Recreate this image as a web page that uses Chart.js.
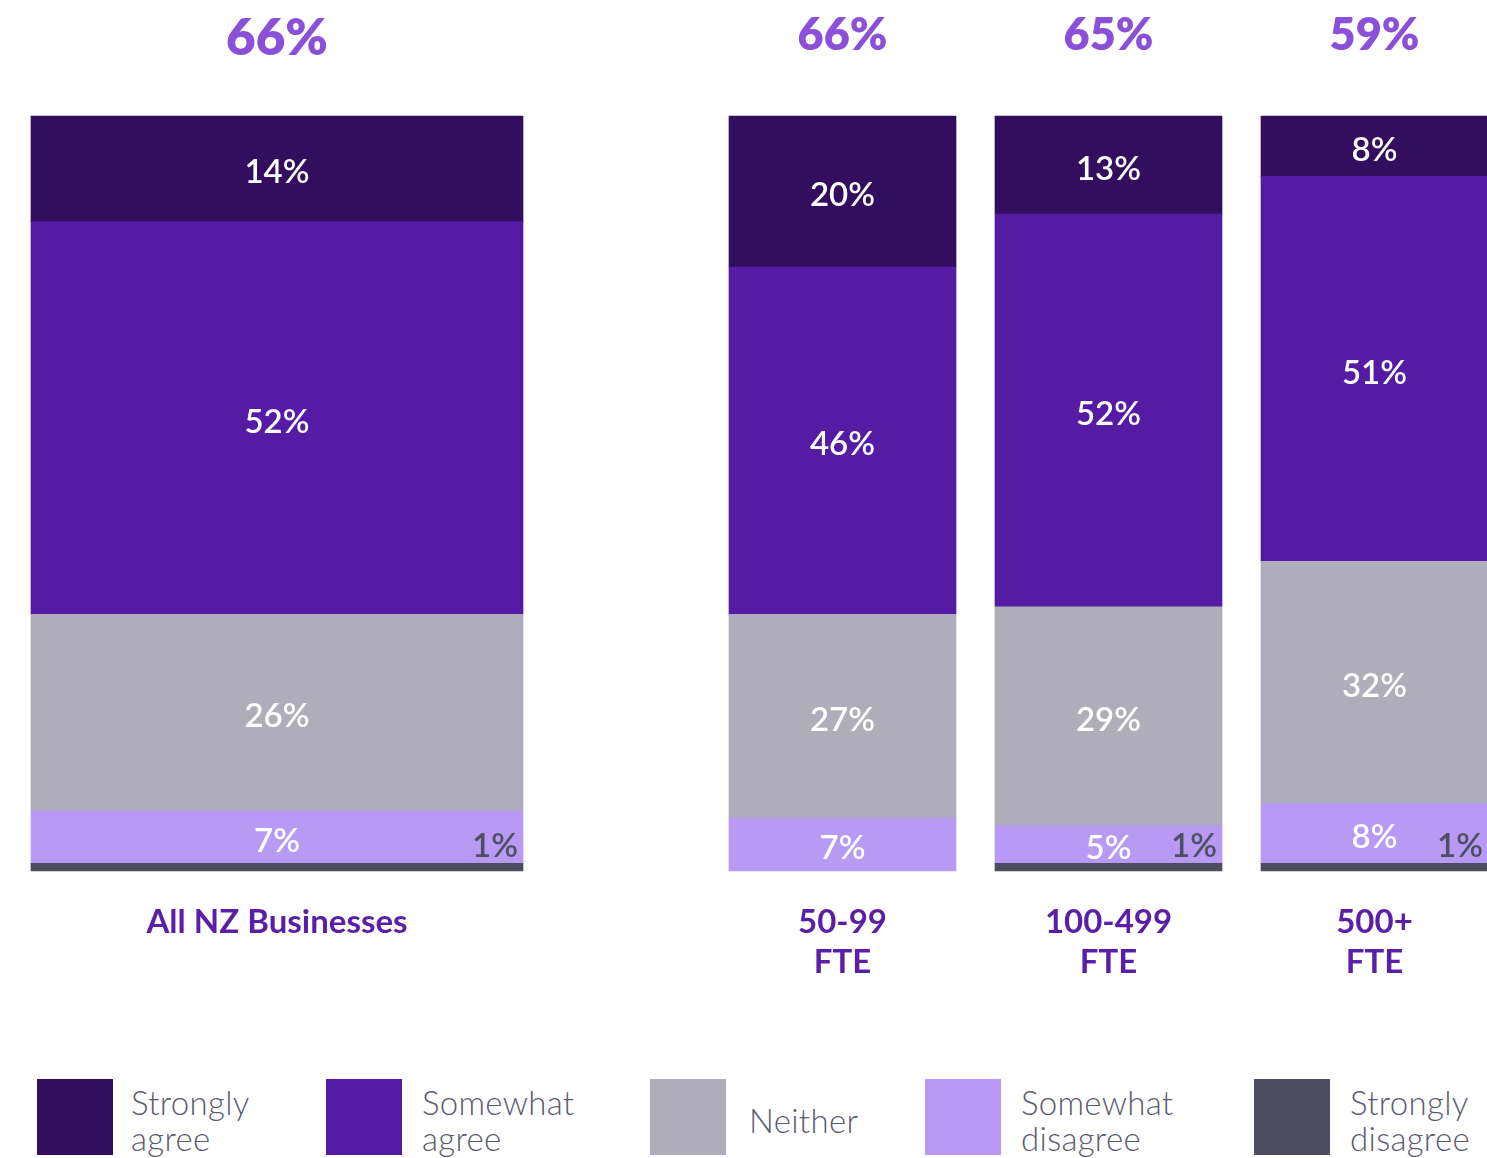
<!DOCTYPE html>
<html>
<head>
<meta charset="utf-8">
<script src="https://cdn.jsdelivr.net/npm/chart.js@4.4.1/dist/chart.umd.min.js"></script>
<style>
body{
    margin:0;
    background:#ffffff;
    overflow:hidden;
    font-family:Lato, "Noto Sans", sans-serif;
}
#wrap{
    position:relative;
    width:1487px;
    height:1158px;
}
canvas{
    position:absolute;
    top:0;
}
#leftChart{ left:0px; }
#rightChart{ left:620px; }
.legendItem{
    position:absolute;
    top:1079px;
    height:76px;
}
.legendBox{
    position:absolute;
    left:0;
    top:0;
    width:76px;
    height:76px;
}
.legendText{
    position:absolute;
    top:3px;
    height:76px;
    display:flex;
    align-items:center;
    font-size:33px;
    font-weight:300;
    line-height:36px;
    color:#5a5c6e;
    white-space:nowrap;
    letter-spacing:0.3px;
}
</style>
</head>
<body>
<div id="wrap">
    <canvas id="leftChart" width="600" height="1000"></canvas>
    <canvas id="rightChart" width="867" height="1000"></canvas>
    <div id="legend"></div>
</div>

<script>

// data
let leftCategories = [["All NZ Businesses"]];
let rightCategories = [["50-99","FTE"],["100-499","FTE"],["500+","FTE"]];

let leftNetAgree = [66];
let rightNetAgree = [66,65,59];

let seriesNames = ["Strongly agree","Somewhat agree","Neither","Somewhat disagree","Strongly disagree"];
let legendLines = [["Strongly","agree"],["Somewhat","agree"],["Neither"],["Somewhat","disagree"],["Strongly","disagree"]];
let seriesColors = ["#330e5f","#561ba4","#afadba","#b89af5","#4b4c5e"];

let leftStronglyAgree = [14];
let leftSomewhatAgree = [52];
let leftNeither = [26];
let leftSomewhatDisagree = [7];
let leftStronglyDisagree = [1];

let rightStronglyAgree = [20,13,8];
let rightSomewhatAgree = [46,52,51];
let rightNeither = [27,29,32];
let rightSomewhatDisagree = [7,5,8];
let rightStronglyDisagree = [0,1,1];

// stack order bottom to top
function makeDatasets(sa, wa, ne, wd, sd, thickness){

    let order = [
        [sd,4],
        [wd,3],
        [ne,2],
        [wa,1],
        [sa,0]
    ];

    return order.map(item => {

        let color = seriesColors[item[1]];

        let ds = {
            label: seriesNames[item[1]],
            seriesIndex: item[1],
            data: item[0],
            backgroundColor: c => (c.raw ? color : "rgba(0,0,0,0)"),
            borderWidth: 0,
            clip: false,
            barPercentage: 1,
            categoryPercentage: 1
        };

        if(thickness){
            ds.barThickness = thickness;
        }

        return ds;
    });
}

let labelPlugin = {

    id: "barLabels",

    afterDatasetsDraw(chart){

        let ctx = chart.ctx;
        let opts = chart.options.plugins.barLabels;

        ctx.save();

        chart.data.datasets.forEach((ds, i) => {

            let meta = chart.getDatasetMeta(i);

            meta.data.forEach((el, j) => {

                let v = ds.data[j];

                if(!v){
                    return;
                }

                ctx.font = "600 33px Lato";
                ctx.textBaseline = "middle";

                if(ds.seriesIndex === 4){

                    ctx.fillStyle = "#4d4f62";
                    ctx.textAlign = "right";
                    ctx.fillText(v + "%", el.x + el.width / 2 - 5, el.y - 17);

                }else{

                    ctx.fillStyle = "#ffffff";
                    ctx.textAlign = "center";
                    ctx.fillText(v + "%", el.x, (el.y + el.base) / 2 + 4);

                }

            });

        });

        // net agree on top and category names below
        let xScale = chart.scales.x;

        chart.data.labels.forEach((lab, j) => {

            let cx = xScale.getPixelForValue(j);

            ctx.fillStyle = "#8a50d8";
            ctx.font = "800 " + opts.topSize + "px Lato";
            ctx.textAlign = "center";
            ctx.textBaseline = "middle";
            ctx.fillText(opts.netAgree[j] + "%", cx, opts.topY);

            ctx.fillStyle = "#5a1fa6";
            ctx.font = "700 33px Lato";

            lab.forEach((line, k) => {
                ctx.fillText(line, cx, 922 + k * 40);
            });

        });

        ctx.restore();
    }
};

function baseOptions(padding, offset, netAgree, topSize, topY){

    return {

        responsive: false,
        animation: false,

        layout: {
            padding: padding
        },

        plugins: {
            legend: { display: false },
            tooltip: { enabled: false },
            barLabels: {
                netAgree: netAgree,
                topSize: topSize,
                topY: topY
            }
        },

        scales: {
            x: {
                type: "category",
                stacked: true,
                offset: offset,
                display: false
            },
            y: {
                stacked: true,
                min: 0,
                max: 100,
                display: false
            }
        }
    };
}

new Chart(
    document.getElementById("leftChart"),
    {
        type: "bar",
        data: {
            labels: leftCategories,
            datasets: makeDatasets(
                leftStronglyAgree,
                leftSomewhatAgree,
                leftNeither,
                leftSomewhatDisagree,
                leftStronglyDisagree,
                null
            )
        },
        options: baseOptions(
            {left:31, right:77, top:116, bottom:129},
            true,
            leftNetAgree,
            51,
            39
        ),
        plugins: [labelPlugin]
    }
);

new Chart(
    document.getElementById("rightChart"),
    {
        type: "bar",
        data: {
            labels: rightCategories,
            datasets: makeDatasets(
                rightStronglyAgree,
                rightSomewhatAgree,
                rightNeither,
                rightSomewhatDisagree,
                rightStronglyDisagree,
                227
            )
        },
        options: baseOptions(
            {left:222.5, right:112.5, top:116, bottom:129},
            false,
            rightNetAgree,
            45,
            35
        ),
        plugins: [labelPlugin]
    }
);

// legend row
let legendX = [37, 326, 650, 925, 1254];
let legendTextGap = [94, 96, 99, 96, 96];

let legendDiv = document.getElementById("legend");

seriesNames.forEach((name, i) => {

    let item = document.createElement("div");
    item.className = "legendItem";
    item.style.left = legendX[i] + "px";

    let box = document.createElement("div");
    box.className = "legendBox";
    box.style.background = seriesColors[i];

    let txt = document.createElement("div");
    txt.className = "legendText";
    txt.style.left = legendTextGap[i] + "px";
    txt.innerHTML = legendLines[i].join("<br>");

    item.appendChild(box);
    item.appendChild(txt);
    legendDiv.appendChild(item);

});

</script>
</body>
</html>
